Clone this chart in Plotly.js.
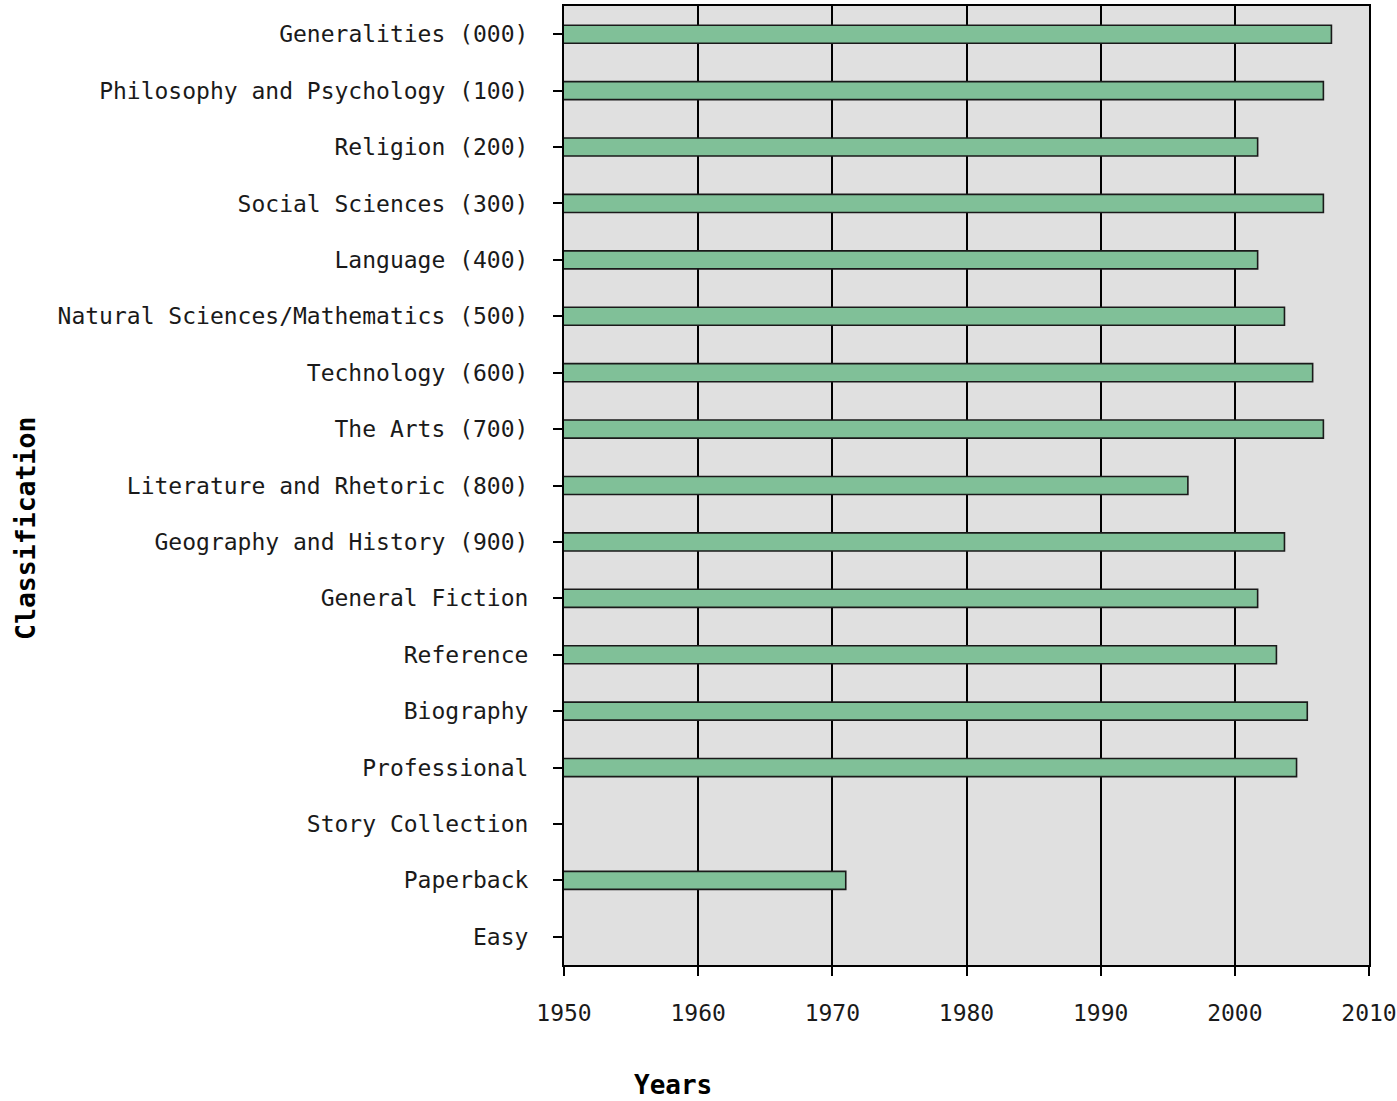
<!DOCTYPE html>
<html>
<head>
<meta charset="utf-8">
<script src="https://cdn.plot.ly/plotly-3.0.1.min.js"></script>
<style>html,body{margin:0;padding:0;background:#fff;}#chart{width:1397px;height:1101px;}</style>
</head>
<body>
<div id="chart"></div>
<script>
const categories = [
  "Generalities (000)",
  "Philosophy and Psychology (100)",
  "Religion (200)",
  "Social Sciences (300)",
  "Language (400)",
  "Natural Sciences/Mathematics (500)",
  "Technology (600)",
  "The Arts (700)",
  "Literature and Rhetoric (800)",
  "Geography and History (900)",
  "General Fiction",
  "Reference",
  "Biography",
  "Professional",
  "Story Collection",
  "Paperback",
  "Easy"
];
const years = [2007.2, 2006.6, 2001.7, 2006.6, 2001.7, 2003.7, 2005.8, 2006.6, 1996.5, 2003.7, 2001.7, 2003.1, 2005.4, 2004.6, null, 1971.0, null];
const xTicks = [1950, 1960, 1970, 1980, 1990, 2000, 2010];
const xTitle = "Years";
const yTitle = "Classification";

const mono = "DejaVu Sans Mono, Liberation Mono, monospace";

const trace = {
  type: "bar",
  orientation: "h",
  y: categories,
  x: years,
  marker: {color: "#80c098", line: {color: "#1a1a1a", width: 1.6}},
  hoverinfo: "x+y"
};

const layout = {
  width: 1397,
  height: 1101,
  margin: {l: 564, r: 28, t: 6, b: 136},
  paper_bgcolor: "#ffffff",
  plot_bgcolor: "#e0e0e0",
  showlegend: false,
  bargap: 0.68,
  font: {family: mono, size: 23, color: "#1a1a1a"},
  xaxis: {
    range: [1950, 2010],
    tickvals: xTicks,
    ticktext: xTicks.map(String),
    ticks: "outside",
    ticklen: 9,
    tickwidth: 2,
    tickcolor: "#000",
    showgrid: true,
    gridcolor: "#000",
    gridwidth: 2,
    zeroline: false,
    showline: true,
    linecolor: "#000",
    linewidth: 2,
    mirror: true,
    ticklabelstandoff: 17,
    tickfont: {family: mono, size: 23, color: "#1a1a1a"},
    fixedrange: true
  },
  yaxis: {
    type: "category",
    autorange: "reversed",
    ticks: "outside",
    ticklen: 9,
    tickwidth: 2,
    tickcolor: "#000",
    showgrid: false,
    zeroline: false,
    showline: true,
    linecolor: "#000",
    linewidth: 2,
    mirror: true,
    ticklabelstandoff: 20,
    tickfont: {family: mono, size: 23, color: "#1a1a1a"},
    fixedrange: true
  },
  annotations: [
    {
      text: "<b>" + xTitle + "</b>",
      xref: "paper", yref: "paper",
      x: (673 - 564) / 805, y: -(1085 - 965) / 959,
      xanchor: "center", yanchor: "middle",
      showarrow: false,
      font: {family: mono, size: 26, color: "#000"}
    },
    {
      text: "<b>" + yTitle + "</b>",
      xref: "paper", yref: "paper",
      x: -(564 - 25) / 805, y: 1 - (529 - 6) / 959,
      xanchor: "center", yanchor: "middle",
      textangle: -90,
      showarrow: false,
      font: {family: mono, size: 26.5, color: "#000"}
    }
  ]
};

Plotly.newPlot("chart", [trace], layout, {displayModeBar: false, staticPlot: true});
</script>
</body>
</html>
